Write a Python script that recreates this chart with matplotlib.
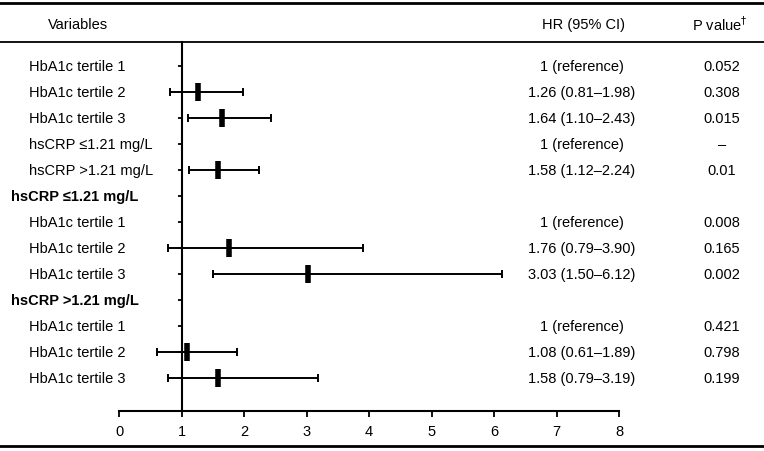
import matplotlib
matplotlib.use("Agg")
import matplotlib.pyplot as plt
from matplotlib.transforms import blended_transform_factory

plt.rcParams['font.family'] = ['Liberation Sans', 'DejaVu Sans']

labels = ['HbA1c tertile 1', 'HbA1c tertile 2', 'HbA1c tertile 3',
          'hsCRP \u22641.21 mg/L', 'hsCRP >1.21 mg/L',
          'hsCRP \u22641.21 mg/L',
          'HbA1c tertile 1', 'HbA1c tertile 2', 'HbA1c tertile 3',
          'hsCRP >1.21 mg/L',
          'HbA1c tertile 1', 'HbA1c tertile 2', 'HbA1c tertile 3']
is_group = [False, False, False, False, False, True,
            False, False, False, True, False, False, False]
hr = [None, 1.26, 1.64, None, 1.58, None, None, 1.76, 3.03, None, None, 1.08, 1.58]
lo = [None, 0.81, 1.10, None, 1.12, None, None, 0.79, 1.50, None, None, 0.61, 0.79]
hi = [None, 1.98, 2.43, None, 2.24, None, None, 3.90, 6.12, None, None, 1.89, 3.19]
hr_text = ['1 (reference)', '1.26 (0.81\u20131.98)', '1.64 (1.10\u20132.43)',
           '1 (reference)', '1.58 (1.12\u20132.24)', '',
           '1 (reference)', '1.76 (0.79\u20133.90)', '3.03 (1.50\u20136.12)', '',
           '1 (reference)', '1.08 (0.61\u20131.89)', '1.58 (0.79\u20133.19)']
p_text = ['0.052', '0.308', '0.015', '\u2013', '0.01', '',
          '0.008', '0.165', '0.002', '',
          '0.421', '0.798', '0.199']

W, H = 764, 452
fig = plt.figure(figsize=(W / 100, H / 100), dpi=100)

# forest axis: x 0..8 spans px 119..619, rows from header line (y=43) to axis (y=412)
ax = fig.add_axes([119 / W, (H - 412) / H, 500 / W, (412 - 43) / H])
ax.set_xlim(0, 8)
ax.set_ylim((412 - 67) / 26, (43 - 67) / 26)
for s in ['top', 'right']:
    ax.spines[s].set_visible(False)
ax.spines['left'].set_position(('data', 1))
ax.spines['left'].set_linewidth(1.5)
ax.spines['bottom'].set_linewidth(1.5)
ax.set_xticks(range(0, 9))
ax.tick_params(axis='x', direction='out', length=4.5, width=1.3, pad=5, labelsize=10.5)
rows = list(range(len(labels)))
ax.set_yticks(rows)
ax.set_yticklabels([])
ax.tick_params(axis='y', direction='out', length=3, width=1.3)
ax.patch.set_visible(False)

for i in rows:
    if hr[i] is None:
        continue
    ax.errorbar(hr[i], i, xerr=[[hr[i] - lo[i]], [hi[i] - hr[i]]],
                fmt='none', ecolor='black', elinewidth=1.4, capsize=3, capthick=1.4)
    ax.plot(hr[i], i, marker='|', markersize=13.5, markeredgewidth=4, color='black')

trans = blended_transform_factory(fig.transFigure, ax.transData)
for i in rows:
    if is_group[i]:
        ax.text(11 / W, i, labels[i], transform=trans, ha='left', va='center',
                fontsize=10.5, fontweight='bold')
    else:
        ax.text(29 / W, i, labels[i], transform=trans, ha='left', va='center', fontsize=10.5)
    ax.text(582 / W, i, hr_text[i], transform=trans, ha='center', va='center', fontsize=10.5)
    ax.text(722 / W, i, p_text[i], transform=trans, ha='center', va='center', fontsize=10.5)

# header
fig.text(48 / W, 1 - 25 / H, 'Variables', ha='left', va='center', fontsize=10.5)
fig.text(583 / W, 1 - 25 / H, 'HR (95% CI)', ha='center', va='center', fontsize=10.5)
fig.text(720 / W, 1 - 25 / H, 'P value$^{\u2020}$', ha='center', va='center', fontsize=10.5)

# table rules
fig.add_artist(plt.Line2D([0, 1], [1 - 4 / H, 1 - 4 / H], color='black', lw=2))
fig.add_artist(plt.Line2D([0, 1], [1 - 43 / H, 1 - 43 / H], color='black', lw=1.3))
fig.add_artist(plt.Line2D([0, 1], [1 - 447 / H, 1 - 447 / H], color='black', lw=2))

fig.savefig('out.png', dpi=100)
